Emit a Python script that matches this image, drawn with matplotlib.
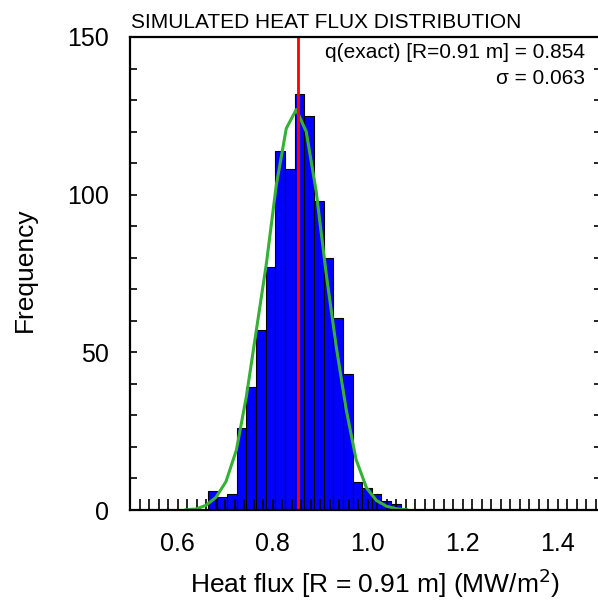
import matplotlib
matplotlib.use('Agg')
import numpy as np
import matplotlib.pyplot as plt
from matplotlib.ticker import MultipleLocator

plt.rcParams['font.family'] = ['Liberation Sans', 'DejaVu Sans']

# histogram bins (edges) and counts
bin_edges = [0.664, 0.684, 0.705, 0.725, 0.745, 0.766, 0.786, 0.806, 0.826, 0.847, 0.867,
             0.887, 0.908, 0.928, 0.948, 0.969, 0.989, 1.009, 1.029, 1.050, 1.070]
counts = [6, 4, 5, 26, 39, 57, 77, 114, 108, 132, 125, 98, 80, 61, 43, 9, 7, 5, 3, 2]

# fitted curve (green)
fit_x = [0.618, 0.639, 0.660, 0.681, 0.702, 0.724, 0.745, 0.766, 0.787, 0.808, 0.829, 0.850,
         0.871, 0.892, 0.913, 0.934, 0.955, 0.976, 0.998, 1.019, 1.040, 1.061, 1.082]
fit_y = [0.1, 0.3, 1.5, 4, 9, 19, 36, 57, 78, 103, 121, 127,
         120, 101, 75, 52, 32, 16, 7, 3, 1.2, 0.4, 0.1]

q_exact = 0.854
sigma = 0.063

W, H = 598, 603
fig = plt.figure(figsize=(W / 100, H / 100), dpi=100)
# right spine sits just outside the image, as in the original
ax = fig.add_axes([130 / W, (H - 510) / H, 471 / W, 473 / H])

edges = np.array(bin_edges)
ax.bar(edges[:-1], counts, width=np.diff(edges), align='edge',
       color='#0000FF', edgecolor='black', linewidth=0.8, zorder=2)
ax.plot(fit_x, fit_y, color='#36B036', linewidth=2.2, zorder=3)
ax.axvline(q_exact, color='#FF0000', linewidth=2.0, zorder=4)
ax.set_axisbelow(False)

ax.set_xlim(0.5, 0.5 + 471 / 475)
ax.set_ylim(0, 150)
ax.xaxis.set_minor_locator(MultipleLocator(0.02))
ax.yaxis.set_major_locator(MultipleLocator(50))
ax.yaxis.set_minor_locator(MultipleLocator(10))
ax.set_xticks([0.6, 0.8, 1.0, 1.2, 1.4])
ax.set_xticklabels(['0.6', '0.8', '1.0', '1.2', '1.4'])

ax.tick_params(axis='x', which='both', direction='in', length=8, width=1.2,
               labelsize=18, pad=16, top=False)
ax.tick_params(axis='y', which='both', direction='in', length=5, width=1.2,
               labelsize=18, pad=15, right=True)
for sp in ax.spines.values():
    sp.set_linewidth(1.6)
    sp.set_zorder(5)

fig.text(131 / W, 1 - 28 / H, 'SIMULATED HEAT FLUX DISTRIBUTION', fontsize=15,
         ha='left', va='baseline')
fig.text(585 / W, 1 - 52 / H, 'q(exact) [R=0.91 m] = %.3f' % q_exact,
         fontsize=15, ha='right', va='center')
fig.text(585 / W, 1 - 79 / H, 'σ = %.3f' % sigma,
         fontsize=15, ha='right', va='center')

fig.text(375 / W, 1 - 593 / H, 'Heat flux [R = 0.91 m] (MW/m$^2$)', fontsize=19,
         ha='center', va='baseline')
fig.text(25 / W, 1 - 270 / H, 'Frequency', fontsize=19, rotation=90,
         ha='center', va='center')

fig.savefig('out.png', dpi=100)
